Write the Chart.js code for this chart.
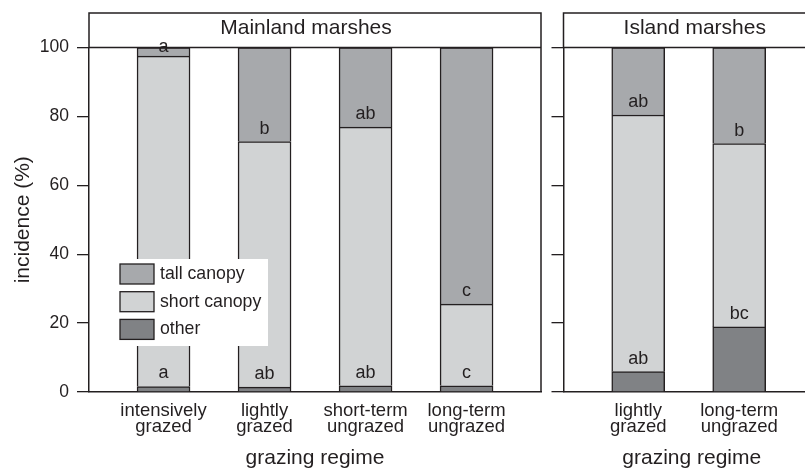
<!DOCTYPE html>
<html lang="en">
<head>
    <meta charset="UTF-8">
    <title>Incidence by grazing regime</title>
    <style>
        html, body {
            margin: 0;
            padding: 0;
            background: #fff;
            overflow: hidden;
        }
        #wrap {
            position: relative;
            width: 805px;
            height: 471px;
            overflow: hidden;
        }
        canvas {
            position: absolute;
            top: 0;
        }
        #mainland { left: 0; }
        #island { left: 548px; }
    </style>
</head>
<body>
    <div id="wrap">
        <canvas id="mainland" width="548" height="471"></canvas>
        <canvas id="island" width="279" height="471"></canvas>
    </div>

    <script src="https://cdn.jsdelivr.net/npm/chart.js@4"></script>
    <script>
        // data (incidence %, stacked: other / short / tall)
        const mainlandRegimes = [['intensively', 'grazed'], ['lightly', 'grazed'], ['short-term', 'ungrazed'], ['long-term', 'ungrazed']];
        const mainlandOther = [1.6, 1.4, 1.8, 1.8];
        const mainlandShort = [95.9, 71.3, 75.1, 23.7];
        const mainlandTall = [2.5, 27.3, 23.1, 74.5];
        const mainlandShortLetters = ['a', 'ab', 'ab', 'c'];
        const mainlandTallLetters = ['a', 'b', 'ab', 'c'];

        const islandRegimes = [['lightly', 'grazed'], ['long-term', 'ungrazed']];
        const islandOther = [5.9, 18.9];
        const islandShort = [74.5, 53.2];
        const islandTall = [19.6, 27.9];
        const islandShortLetters = ['ab', 'bc'];
        const islandTallLetters = ['ab', 'b'];

        const yTicks = [0, 20, 40, 60, 80, 100];

        const INK = '#231f20';
        const FONT = "'Liberation Sans', Arial, Helvetica, sans-serif";
        const COLORS = { other: '#808285', short: '#d1d3d4', tall: '#a7a9ac' };
        const STRIP_TOP = 13;

        Chart.defaults.font.family = FONT;
        Chart.defaults.color = INK;

        function drawLegend(ctx, chart) {
            const a = chart.chartArea;
            const x0 = a.left + 29, y0 = a.top + 211.5;
            ctx.fillStyle = '#fff';
            ctx.fillRect(x0, y0, 150, 87);
            // legend lists top to bottom: tall, short, other
            const items = chart.data.datasets.slice().reverse();
            ctx.font = `17.7px ${FONT}`;
            ctx.textAlign = 'left';
            ctx.textBaseline = 'middle';
            ctx.lineWidth = 1.3;
            items.forEach((ds, k) => {
                const sy = y0 + 5 + k * 27.7;
                ctx.fillStyle = ds.backgroundColor;
                ctx.fillRect(x0 + 2, sy, 34, 20);
                ctx.strokeStyle = INK;
                ctx.strokeRect(x0 + 2, sy, 34, 20);
                ctx.fillStyle = INK;
                ctx.fillText(ds.label, x0 + 42, sy + 10);
            });
        }

        function panelDecor(cfg) {
            return {
                id: 'panelDecor',
                afterDraw(chart) {
                    const { ctx, chartArea: a } = chart;
                    ctx.save();
                    // strip box + top and right frame
                    ctx.strokeStyle = INK;
                    ctx.lineWidth = 1.5;
                    ctx.beginPath();
                    ctx.moveTo(a.left, a.top);
                    ctx.lineTo(a.left, STRIP_TOP);
                    ctx.lineTo(a.right, STRIP_TOP);
                    ctx.lineTo(a.right, a.bottom);
                    ctx.moveTo(a.left, a.top);
                    ctx.lineTo(a.right, a.top);
                    ctx.stroke();

                    ctx.fillStyle = INK;
                    ctx.font = `21px ${FONT}`;
                    ctx.textAlign = 'center';
                    ctx.textBaseline = 'middle';
                    ctx.fillText(cfg.title, (a.left + a.right) / 2 + cfg.titleShift, 28);

                    // significance letters just above the segment's lower edge
                    ctx.font = `18px ${FONT}`;
                    [[1, cfg.shortLetters], [2, cfg.tallLetters]].forEach(([di, letters]) => {
                        chart.getDatasetMeta(di).data.forEach((bar, i) => {
                            const y = Math.max(bar.base - 13, a.top);
                            ctx.fillText(letters[i], bar.x, y);
                        });
                    });

                    if (cfg.legend) drawLegend(ctx, chart);
                    ctx.restore();
                }
            };
        }

        function makePanel(canvasId, cfg) {
            const toPoints = arr => arr.map((v, i) => ({ x: i + 1, y: v }));
            const ctx = document.getElementById(canvasId).getContext('2d');
            return new Chart(ctx, {
                type: 'bar',
                data: {
                    datasets: [
                        { label: 'other', data: toPoints(cfg.other), backgroundColor: COLORS.other },
                        { label: 'short canopy', data: toPoints(cfg.short), backgroundColor: COLORS.short },
                        { label: 'tall canopy', data: toPoints(cfg.tall), backgroundColor: COLORS.tall }
                    ]
                },
                options: {
                    responsive: false,
                    animation: false,
                    events: [],
                    layout: { padding: { top: 47.5, right: 7, left: 0, bottom: 0 } },
                    datasets: {
                        bar: {
                            barThickness: 53,
                            borderColor: INK,
                            borderWidth: 1.5,
                            borderSkipped: 'start'
                        }
                    },
                    plugins: {
                        legend: { display: false },
                        tooltip: { enabled: false }
                    },
                    scales: {
                        x: {
                            type: 'linear',
                            stacked: true,
                            offset: false,
                            min: cfg.xMin,
                            max: cfg.xMax,
                            z: 1,
                            afterBuildTicks: s => { s.ticks = cfg.regimes.map((_, i) => ({ value: i + 1 })); },
                            afterFit: s => { s.height = 79; },
                            grid: { display: true, drawOnChartArea: false, drawTicks: false },
                            border: { display: true, color: INK, width: 1.5 },
                            ticks: {
                                padding: 11,
                                maxRotation: 0,
                                autoSkip: false,
                                color: INK,
                                font: { size: 18.5, lineHeight: '16px' },
                                callback: v => cfg.regimes[v - 1] || ''
                            },
                            title: {
                                display: true,
                                text: 'grazing regime',
                                color: INK,
                                font: { size: 21 },
                                padding: { top: 0, bottom: 0 }
                            }
                        },
                        y: {
                            stacked: true,
                            min: 0,
                            max: 100,
                            z: 1,
                            afterBuildTicks: s => { s.ticks = yTicks.map(v => ({ value: v })); },
                            afterFit: s => { s.width = cfg.yWidth; },
                            grid: { drawOnChartArea: false, drawTicks: true, tickLength: 12, color: INK, lineWidth: 1.3 },
                            border: { display: true, color: INK, width: 1.5 },
                            ticks: {
                                padding: 8,
                                color: INK,
                                font: { size: 17.5 },
                                callback: v => cfg.showY ? v : ''
                            },
                            title: {
                                display: cfg.showY,
                                text: 'incidence (%)',
                                color: INK,
                                font: { size: 21 },
                                padding: { top: 10.4, bottom: 0 }
                            }
                        }
                    }
                },
                plugins: [panelDecor(cfg)]
            });
        }

        makePanel('mainland', {
            title: 'Mainland marshes',
            titleShift: -9,
            regimes: mainlandRegimes,
            other: mainlandOther,
            short: mainlandShort,
            tall: mainlandTall,
            shortLetters: mainlandShortLetters,
            tallLetters: mainlandTallLetters,
            xMin: 0.262,
            xMax: 4.737,
            yWidth: 89,
            showY: true,
            legend: true
        });

        makePanel('island', {
            title: 'Island marshes',
            titleShift: 3,
            regimes: islandRegimes,
            other: islandOther,
            short: islandShort,
            tall: islandTall,
            shortLetters: islandShortLetters,
            tallLetters: islandTallLetters,
            xMin: 0.26,
            xMax: 2.80,
            yWidth: 15.5,
            showY: false,
            legend: false
        });
    </script>
</body>
</html>
